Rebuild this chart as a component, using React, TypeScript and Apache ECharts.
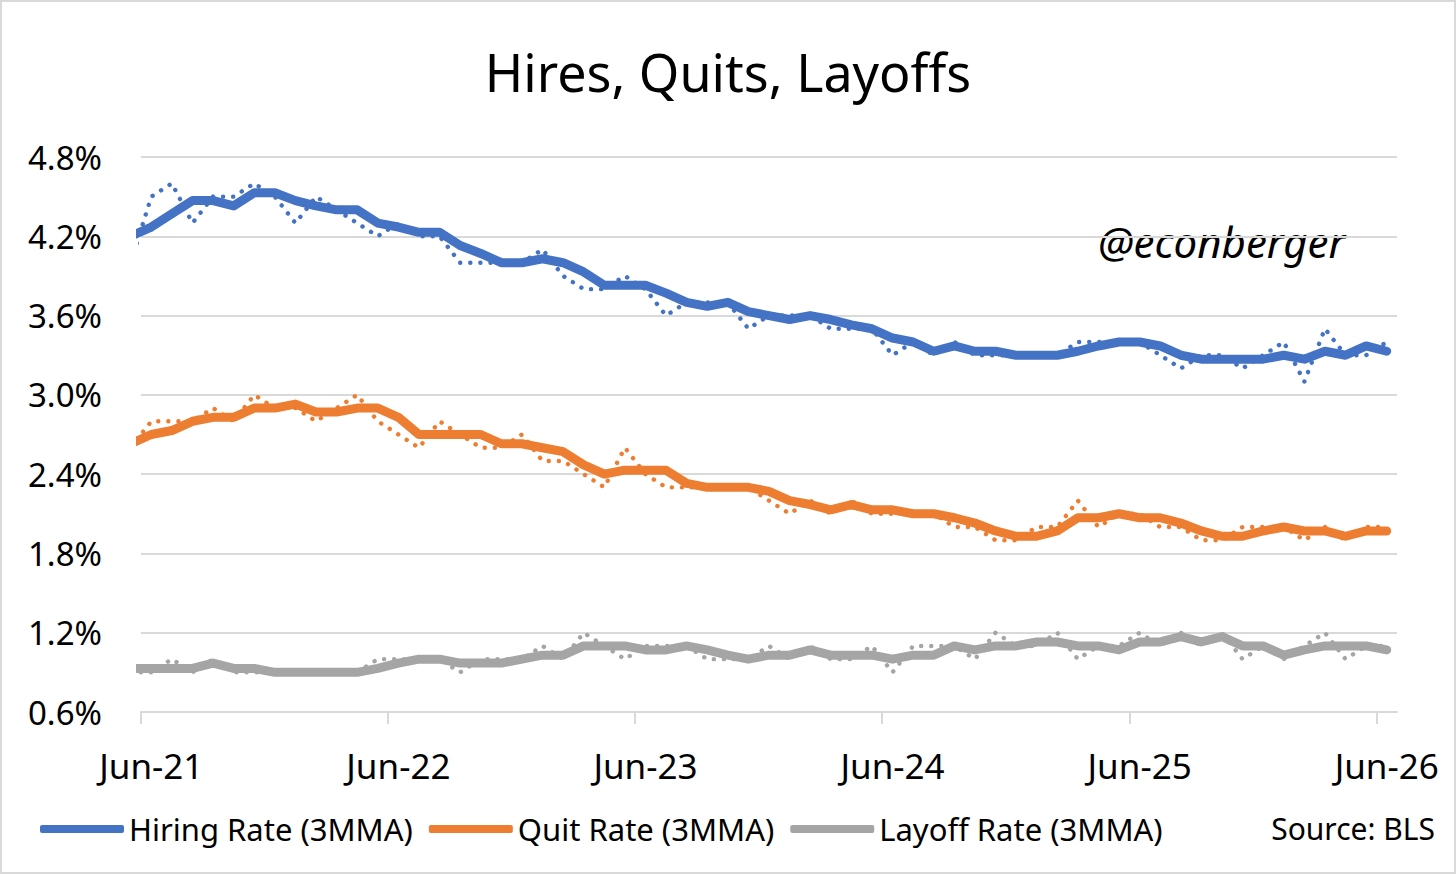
import React, { useEffect, useRef } from 'react'
import * as echarts from 'echarts'

// monthly observations, May-21 .. Jun-26 (first one sits left of the axis start and is clipped)
const months = [
  'May-21', 'Jun-21', 'Jul-21', 'Aug-21', 'Sep-21', 'Oct-21', 'Nov-21', 'Dec-21',
  'Jan-22', 'Feb-22', 'Mar-22', 'Apr-22', 'May-22', 'Jun-22', 'Jul-22', 'Aug-22', 'Sep-22', 'Oct-22', 'Nov-22', 'Dec-22',
  'Jan-23', 'Feb-23', 'Mar-23', 'Apr-23', 'May-23', 'Jun-23', 'Jul-23', 'Aug-23', 'Sep-23', 'Oct-23', 'Nov-23', 'Dec-23',
  'Jan-24', 'Feb-24', 'Mar-24', 'Apr-24', 'May-24', 'Jun-24', 'Jul-24', 'Aug-24', 'Sep-24', 'Oct-24', 'Nov-24', 'Dec-24',
  'Jan-25', 'Feb-25', 'Mar-25', 'Apr-25', 'May-25', 'Jun-25', 'Jul-25', 'Aug-25', 'Sep-25', 'Oct-25', 'Nov-25', 'Dec-25',
  'Jan-26', 'Feb-26', 'Mar-26', 'Apr-26', 'May-26', 'Jun-26'
]

const xTickLabels = ['Jun-21', 'Jun-22', 'Jun-23', 'Jun-24', 'Jun-25', 'Jun-26']
const xTickValues = [0, 12, 24, 36, 48, 60]

const hiresRaw = [
  4.0, 4.5, 4.6, 4.3, 4.5, 4.5, 4.6, 4.5, 4.3, 4.5, 4.4,
  4.3, 4.2, 4.3, 4.2, 4.2, 4.0, 4.0, 4.0, 4.0, 4.1,
  3.9, 3.8, 3.8, 3.9, 3.8, 3.6, 3.7, 3.7, 3.7, 3.5,
  3.6, 3.6, 3.6, 3.5, 3.5, 3.5, 3.3, 3.4, 3.3, 3.4,
  3.3, 3.3, 3.3, 3.3, 3.3, 3.4, 3.4, 3.4, 3.4, 3.3,
  3.2, 3.3, 3.3, 3.2, 3.3, 3.4, 3.1, 3.5, 3.3, 3.3, 3.4
]
const hiresMMA = [
  4.2, 4.27, 4.37, 4.47, 4.47, 4.43, 4.53, 4.53, 4.47, 4.43, 4.4,
  4.4, 4.3, 4.27, 4.23, 4.23, 4.13, 4.07, 4.0, 4.0, 4.03,
  4.0, 3.93, 3.83, 3.83, 3.83, 3.77, 3.7, 3.67, 3.7, 3.63,
  3.6, 3.57, 3.6, 3.57, 3.53, 3.5, 3.43, 3.4, 3.33, 3.37,
  3.33, 3.33, 3.3, 3.3, 3.3, 3.33, 3.37, 3.4, 3.4, 3.37,
  3.3, 3.27, 3.27, 3.27, 3.27, 3.3, 3.27, 3.33, 3.3, 3.37, 3.33
]

const quitsRaw = [
  2.6, 2.8, 2.8, 2.8, 2.9, 2.8, 3.0, 2.9, 2.9, 2.8, 2.9,
  3.0, 2.8, 2.7, 2.6, 2.8, 2.7, 2.6, 2.6, 2.7, 2.5,
  2.5, 2.4, 2.3, 2.6, 2.4, 2.3, 2.3, 2.3, 2.3, 2.3,
  2.2, 2.1, 2.2, 2.1, 2.2, 2.1, 2.1, 2.1, 2.1, 2.0,
  2.0, 1.9, 1.9, 2.0, 2.0, 2.2, 2.0, 2.1, 2.1, 2.0,
  2.0, 1.9, 1.9, 2.0, 2.0, 2.0, 1.9, 2.0, 1.9, 2.0, 2.0
]
const quitsMMA = [
  2.63, 2.7, 2.73, 2.8, 2.83, 2.83, 2.9, 2.9, 2.93, 2.87, 2.87,
  2.9, 2.9, 2.83, 2.7, 2.7, 2.7, 2.7, 2.63, 2.63, 2.6,
  2.57, 2.47, 2.4, 2.43, 2.43, 2.43, 2.33, 2.3, 2.3, 2.3,
  2.27, 2.2, 2.17, 2.13, 2.17, 2.13, 2.13, 2.1, 2.1, 2.07,
  2.03, 1.97, 1.93, 1.93, 1.97, 2.07, 2.07, 2.1, 2.07, 2.07,
  2.03, 1.97, 1.93, 1.93, 1.97, 2.0, 1.97, 1.97, 1.93, 1.97, 1.97
]

const layoffsRaw = [
  0.9, 0.9, 1.0, 0.9, 1.0, 0.9, 0.9, 0.9, 0.9, 0.9, 0.9,
  0.9, 1.0, 1.0, 1.0, 1.0, 0.9, 1.0, 1.0, 1.0, 1.1,
  1.0, 1.2, 1.1, 1.0, 1.1, 1.1, 1.1, 1.0, 1.0, 1.0,
  1.1, 1.0, 1.1, 1.0, 1.0, 1.1, 0.9, 1.1, 1.1, 1.1,
  1.0, 1.2, 1.1, 1.1, 1.2, 1.0, 1.1, 1.1, 1.2, 1.1,
  1.2, 1.1, 1.2, 1.0, 1.1, 1.0, 1.1, 1.2, 1.0, 1.1, 1.1
]
const layoffsMMA = [
  0.93, 0.93, 0.93, 0.93, 0.97, 0.93, 0.93, 0.9, 0.9, 0.9, 0.9,
  0.9, 0.93, 0.97, 1.0, 1.0, 0.97, 0.97, 0.97, 1.0, 1.03,
  1.03, 1.1, 1.1, 1.1, 1.07, 1.07, 1.1, 1.07, 1.03, 1.0,
  1.03, 1.03, 1.07, 1.03, 1.03, 1.03, 1.0, 1.03, 1.03, 1.1,
  1.07, 1.1, 1.1, 1.13, 1.13, 1.1, 1.1, 1.07, 1.13, 1.13,
  1.17, 1.13, 1.17, 1.1, 1.1, 1.03, 1.07, 1.1, 1.1, 1.1, 1.07
]

const BLUE = '#4472C4'
const ORANGE = '#ED7D31'
const GREY = '#A5A5A5'
const FONT = '"Noto Sans", "Open Sans", sans-serif'

// points sit mid-month, half a month right of the month's tick
const toPoints = (vals: number[]) => vals.map((v, i) => [i - 0.5, v])
// year labels are centred on the month, not on the tick
const labelValues = xTickValues.map((v) => v + 0.5)

const App: React.FC = () => {
  const chartRef = useRef<HTMLDivElement>(null)

  useEffect(() => {
    document.body.style.margin = '0'
    if (!chartRef.current) return
    const chart = echarts.init(chartRef.current, undefined, { renderer: 'svg' })

    const rawLine = (name: string, vals: number[], color: string) => ({
      name,
      type: 'line',
      data: toPoints(vals),
      showSymbol: false,
      clip: true,
      z: 2,
      lineStyle: { color, width: 4.4, type: [0.1, 10], cap: 'round', join: 'round' }
    })
    const mmaLine = (name: string, vals: number[], color: string) => ({
      name,
      type: 'line',
      data: toPoints(vals),
      showSymbol: false,
      clip: true,
      z: 3,
      itemStyle: { color },
      lineStyle: { color, width: 9, cap: 'round', join: 'round' }
    })

    chart.setOption({
      animation: false,
      backgroundColor: '#ffffff',
      title: {
        text: 'Hires, Quits, Layoffs',
        left: 'center',
        top: 40,
        textStyle: { fontFamily: FONT, fontSize: 52, fontWeight: 'normal', color: '#000000' }
      },
      grid: { left: 141, right: 59, top: 157, bottom: 162 },
      legend: {
        left: 40,
        top: 810,
        padding: 0,
        itemWidth: 84,
        itemHeight: 8,
        itemGap: 16,
        icon: 'roundRect',
        textStyle: { fontFamily: FONT, fontSize: 31, color: '#000000', lineHeight: 38 },
        data: ['Hiring Rate (3MMA)', 'Quit Rate (3MMA)', 'Layoff Rate (3MMA)']
      },
      xAxis: {
        type: 'value',
        min: 0,
        max: 61,
        interval: 12,
        splitLine: { show: false },
        axisLine: { show: true, lineStyle: { color: '#d9d9d9', width: 2 } },
        axisTick: { show: true, length: 12, customValues: xTickValues, lineStyle: { color: '#d9d9d9', width: 2 } },
        axisLabel: {
          customValues: labelValues,
          margin: 36,
          fontFamily: FONT,
          fontSize: 35,
          color: '#000000',
          formatter: (v: number) => xTickLabels[labelValues.indexOf(v)] ?? ''
        }
      },
      yAxis: {
        type: 'value',
        min: 0.6,
        max: 4.8,
        interval: 0.6,
        axisLine: { show: false },
        axisTick: { show: false },
        splitLine: { lineStyle: { color: '#d9d9d9', width: 2 } },
        axisLabel: {
          margin: 39,
          fontFamily: FONT,
          fontSize: 33,
          color: '#000000',
          formatter: (v: number) => v.toFixed(1) + '%'
        }
      },
      graphic: [
        {
          type: 'rect',
          silent: true,
          shape: { x: 1, y: 1, width: 1454, height: 872 },
          style: { fill: 'none', stroke: '#d9d9d9', lineWidth: 2 }
        },
        {
          type: 'text',
          x: 1098,
          y: 241,
          style: {
            text: '@econberger',
            fontFamily: FONT,
            fontSize: 42,
            fontStyle: 'italic',
            fill: '#000000',
            textVerticalAlign: 'middle'
          }
        },
        {
          type: 'text',
          right: 21,
          top: 809,
          style: { text: 'Source: BLS', fontFamily: FONT, fontSize: 30, fill: '#000000', lineHeight: 38 }
        }
      ],
      series: [
        rawLine('Hiring Rate', hiresRaw, BLUE),
        rawLine('Quit Rate', quitsRaw, ORANGE),
        rawLine('Layoff Rate', layoffsRaw, GREY),
        mmaLine('Hiring Rate (3MMA)', hiresMMA, BLUE),
        mmaLine('Quit Rate (3MMA)', quitsMMA, ORANGE),
        mmaLine('Layoff Rate (3MMA)', layoffsMMA, GREY)
      ]
    })

    return () => {
      chart.dispose()
    }
  }, [])

  return <div ref={chartRef} style={{ width: 1456, height: 874 }} />
}

export default App
